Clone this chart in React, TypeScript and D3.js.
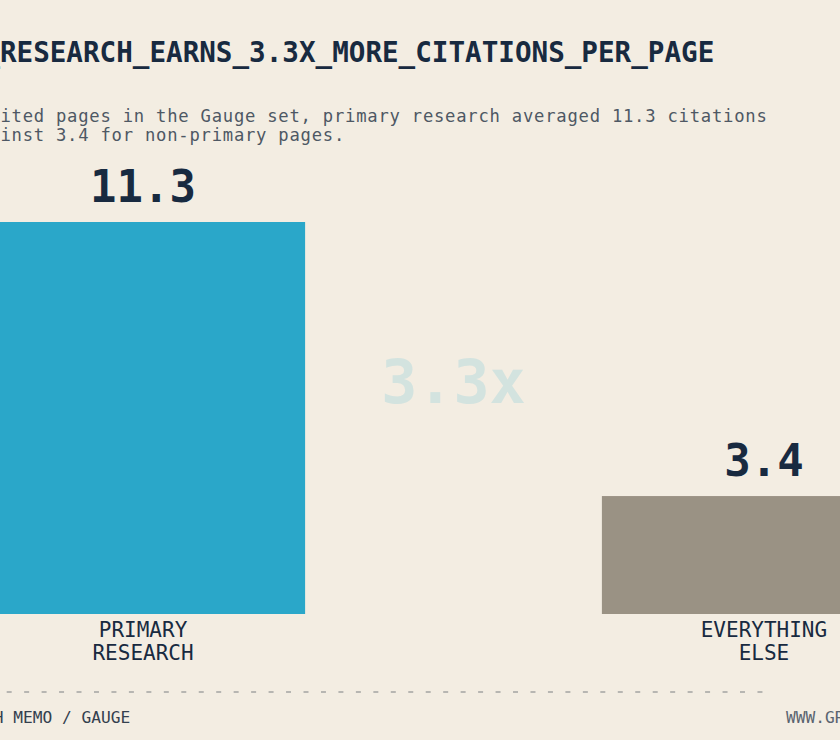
import React, { useEffect } from "react";
import * as d3 from "d3";

const categories = ["PRIMARY RESEARCH", "EVERYTHING ELSE"];
const labelLines = [["PRIMARY", "RESEARCH"], ["EVERYTHING", "ELSE"]];
const values = [11.3, 3.4];
const valueLabels = ["11.3", "3.4"];
const ratioLabel = "3.3x";
const titleText = "PRIMARY_RESEARCH_EARNS_3.3X_MORE_CITATIONS_PER_PAGE";
const subtitleLines = [
  "Across 412 cited pages in the Gauge set, primary research averaged 11.3 citations",
  "per page against 3.4 for non-primary pages.",
];
const footerLeft = "SOURCE: GROWTH MEMO / GAUGE";
const footerRight = "WWW.GROWTH-MEMO.COM";

const W = 840;
const H = 740;
const FONT = "'DejaVu Sans Mono', 'Liberation Mono', monospace";
const BG = "#F3EDE2";
const NAVY = "#182A40";
const COLORS = ["#2AA7C9", "#9A9284"];

export default function App() {
  useEffect(() => {
    document.body.style.margin = "0";
    document.body.style.background = BG;
  }, []);

  const left = -133;
  const x = d3.scaleBand<string>().domain(categories).range([-19, 926]).paddingInner(0.478).paddingOuter(0);
  const y = d3.scaleLinear().domain([0, 11.3]).range([614, 222]);
  const bw = x.bandwidth();
  const mid = ((x(categories[0]) ?? 0) + bw + (x(categories[1]) ?? 0)) / 2;

  return (
    <svg
      width={W}
      height={H}
      viewBox={`0 0 ${W} ${H}`}
      style={{ position: "absolute", left: 0, top: 0, background: BG, overflow: "hidden" }}
      fontFamily={FONT}
    >
      <rect x={0} y={0} width={W} height={H} fill={BG} />
      <text x={left} y={62} fontSize={27.6} fontWeight={700} fill={NAVY}>
        {titleText}
      </text>
      {subtitleLines.map((l, i) => (
        <text key={i} x={left} y={121.5 + i * 19} fontSize={17.2} letterSpacing={0.77} fill="#4E5864">
          {l}
        </text>
      ))}
      <text
        x={mid}
        y={403}
        textAnchor="middle"
        fontSize={60}
        fontWeight={700}
        fill="#D3E3DF"
      >
        {ratioLabel}
      </text>
      {categories.map((c, i) => {
        const bx = x(c) ?? 0;
        const cx = bx + bw / 2;
        return (
          <g key={c}>
            <rect x={bx} y={y(values[i])} width={bw} height={y(0) - y(values[i])} fill={COLORS[i]} />
            <text
              x={cx}
              y={y(values[i]) - 20}
              textAnchor="middle"
              fontSize={44}
              fontWeight={700}
              fill={NAVY}
            >
              {valueLabels[i]}
            </text>
            {labelLines[i].map((t, j) => (
              <text
                key={j}
                x={cx}
                y={637 + j * 22.5}
                textAnchor="middle"
                fontSize={21}
                fill={NAVY}
              >
                {t}
              </text>
            ))}
          </g>
        );
      })}
      <line x1={left} x2={766} y1={692} y2={692} stroke="#A4A4A2" strokeWidth={1.3} strokeDasharray="5 12.46" />
      <text x={left} y={722.5} fontSize={16.2} fill="#34404E">
        {footerLeft}
      </text>
      <text x={786} y={722.5} fontSize={16.2} fill="#5A6470">
        {footerRight}
      </text>
    </svg>
  );
}
